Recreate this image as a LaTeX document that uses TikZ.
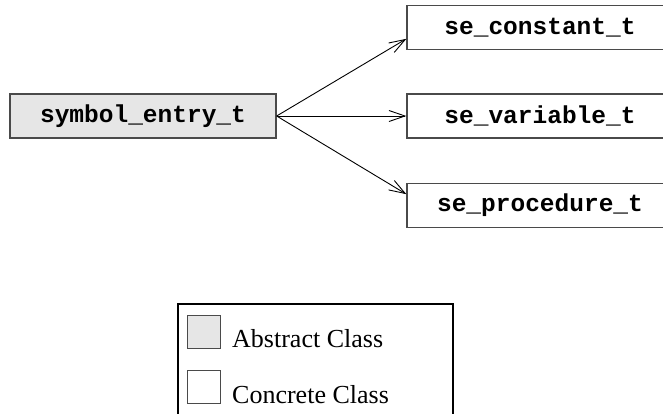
\documentclass[tikz,border=0pt]{standalone}
\usepackage{fontspec}
\setmainfont{Liberation Serif}
\setmonofont{Liberation Mono}
\usepackage{tikz}
\usetikzlibrary{arrows.meta,calc,positioning}
\definecolor{Edge}{HTML}{4A4A4A}
\definecolor{PaleGrey}{HTML}{E6E6E6}

\begin{document}
\begin{tikzpicture}[
  x=1pt,y=-1pt,
  cls/.style={draw=Edge,line width=1.3pt,minimum width=266pt,minimum height=44pt,inner sep=0pt,
    font=\fontsize{24.5}{24.5}\selectfont\ttfamily\bfseries},
  abstract/.style={cls,fill=PaleGrey},
  concrete/.style={cls,fill=white},
  swatch/.style={draw=Edge,line width=1pt,minimum size=33pt,inner sep=0pt},
  legtext/.style={anchor=base west,inner sep=0pt,font=\fontsize{26}{26}\selectfont},
  inh/.style={-{Straight Barb[length=16pt,width=11pt]},line width=0.9pt,black}
]
\useasboundingbox (0,0) rectangle (663,413);
\clip (0,0) rectangle (663,413);

\node[abstract] (symentry) at (143,116) {symbol\_entry\_t};
\node[concrete] (seconst) at (540,27.5) {se\_constant\_t};
\node[concrete] (sevar) at (540,116) {se\_variable\_t};
\node[concrete] (seproc) at (540,205.5) {se\_procedure\_t};

\draw[inh] (symentry.east)--($(seconst.west)!0.5!(seconst.south west)$);
\draw[inh] (symentry.east)--(sevar.west);
\draw[inh] (symentry.east)--($(seproc.west)!0.5!(seproc.north west)$);

% legend
\node[draw,line width=2pt,minimum width=275pt,minimum height=140pt,inner sep=0pt,anchor=north west]
  (legend) at (177,303) {};
\node[swatch,fill=PaleGrey] (absbox) at (203.5,331.5) {};
\node[swatch,fill=white] (conbox) at (203.5,386.5) {};
\node[legtext] (abstxt) at (232,347) {Abstract Class};
\node[legtext] (contxt) at (232,403) {Concrete Class};
\end{tikzpicture}
\end{document}
